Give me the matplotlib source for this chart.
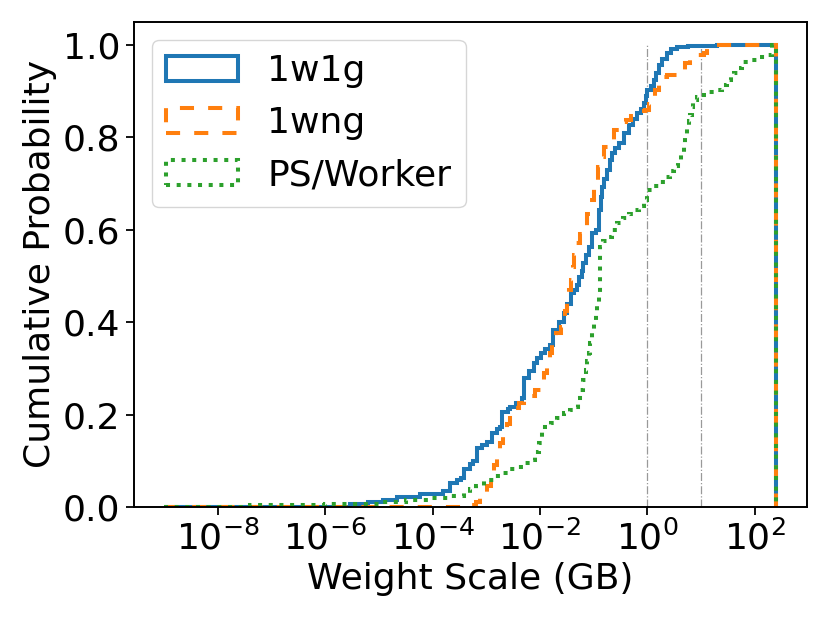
import numpy as np
import matplotlib
matplotlib.use("Agg")
import matplotlib.pyplot as plt
from matplotlib.patches import Patch
from matplotlib.ticker import FixedLocator, NullLocator, LogFormatterMathtext

# Step edges as log10(GB); CDF value holds from edge i to edge i+1.
MAX_LOG_GB = 2.40  # largest model weight (~251 GB)

blue_lx = [-9.0, -5.53, -5.2, -4.92, -4.66, -4.23, -3.80, -3.67, -3.55, -3.48, -3.42,
           -3.30, -3.24, -3.18, -3.08, -2.98, -2.90, -2.80, -2.74, -2.71, -2.60,
           -2.55, -2.45, -2.33, -2.30, -2.20, -2.12, -2.05, -1.99, -1.90, -1.81,
           -1.76, -1.65, -1.56, -1.50, -1.43, -1.37, -1.31, -1.28, -1.22, -1.19,
           -1.14, -1.09, -1.03, -0.96, -0.90, -0.87, -0.84, -0.80, -0.75, -0.70,
           -0.65, -0.60, -0.52, -0.44, -0.35, -0.27, -0.19, -0.12, -0.07, -0.02,
           0.0, 0.06, 0.12, 0.17, 0.21, 0.28, 0.37, 0.45, 0.55, 0.75, 0.99, 1.30]
blue_cdf = [0.0, 0.006, 0.010, 0.015, 0.022, 0.028, 0.035, 0.052, 0.058, 0.063, 0.082,
            0.092, 0.100, 0.128, 0.135, 0.141, 0.160, 0.168, 0.173, 0.206, 0.212,
            0.217, 0.226, 0.235, 0.279, 0.295, 0.311, 0.322, 0.333, 0.342, 0.351,
            0.383, 0.400, 0.419, 0.440, 0.463, 0.470, 0.480, 0.498, 0.510, 0.527,
            0.545, 0.563, 0.592, 0.600, 0.643, 0.670, 0.693, 0.710, 0.729, 0.751,
            0.765, 0.776, 0.787, 0.809, 0.827, 0.840, 0.852, 0.862, 0.874, 0.890,
            0.903, 0.912, 0.924, 0.940, 0.957, 0.970, 0.982, 0.990, 0.995, 0.997,
            0.998, 1.0]

orange_lx = [-9.0, -3.35, -3.20, -3.12, -3.05, -2.98, -2.92, -2.86, -2.80, -2.74,
             -2.68, -2.61, -2.55, -2.48, -2.40, -2.30, -2.22, -2.10, -1.99, -1.93,
             -1.87, -1.82, -1.77, -1.70, -1.60, -1.56, -1.53, -1.50, -1.46, -1.43,
             -1.39, -1.36, -1.32, -1.25, -1.19, -1.13, -1.06, -1.00, -0.97, -0.92,
             -0.875, -0.80, -0.72, -0.62, -0.53, -0.40, -0.30, -0.19, -0.04, 0.03,
             0.09, 0.15, 0.21, 0.37, 0.55, 0.65, 0.70, 0.80, 0.89, 1.05, 1.11]
orange_cdf = [0.0, 0.004, 0.010, 0.020, 0.030, 0.045, 0.066, 0.090, 0.116, 0.138,
              0.159, 0.180, 0.203, 0.215, 0.224, 0.232, 0.239, 0.252, 0.268, 0.290,
              0.311, 0.333, 0.354, 0.376, 0.390, 0.397, 0.425, 0.448, 0.470, 0.491,
              0.520, 0.545, 0.571, 0.590, 0.607, 0.635, 0.665, 0.690, 0.708, 0.735,
              0.758, 0.778, 0.794, 0.815, 0.834, 0.838, 0.845, 0.856, 0.859, 0.872,
              0.888, 0.903, 0.931, 0.935, 0.940, 0.946, 0.960, 0.970, 0.978, 0.982,
              1.0]

green_lx = [-9.0, -7.4, -6.0, -4.97, -4.5, -4.04, -3.70, -3.42, -3.30, -3.20, -3.05,
            -2.85, -2.68, -2.55, -2.43, -2.30, -2.18, -2.10, -2.02, -1.96, -1.80,
            -1.68, -1.56, -1.45, -1.37, -1.30, -1.25, -1.20, -1.15, -1.12, -1.09,
            -1.06, -1.03, -1.00, -0.96, -0.93, -0.90, -0.89, -0.88, -0.875, -0.82,
            -0.75, -0.65, -0.56, -0.45, -0.35, -0.25, -0.15, -0.07, 0.0, 0.12,
            0.24, 0.33, 0.43, 0.50, 0.58, 0.63, 0.68, 0.71, 0.74, 0.77, 0.80,
            0.83, 0.86, 0.92, 0.99, 1.11, 1.30, 1.40, 1.48, 1.55, 1.61, 1.68,
            1.76, 1.92, 2.10, 2.25, 2.32]
green_cdf = [0.0, 0.004, 0.006, 0.011, 0.015, 0.019, 0.024, 0.030, 0.038, 0.045, 0.058,
             0.066, 0.073, 0.082, 0.087, 0.095, 0.102, 0.118, 0.138, 0.174, 0.181,
             0.192, 0.203, 0.210, 0.217, 0.235, 0.253, 0.275, 0.297, 0.315, 0.333,
             0.355, 0.376, 0.398, 0.419, 0.440, 0.463, 0.490, 0.520, 0.563, 0.575,
             0.585, 0.600, 0.614, 0.625, 0.635, 0.643, 0.652, 0.665, 0.686, 0.695,
             0.704, 0.715, 0.726, 0.737, 0.747, 0.765, 0.784, 0.803, 0.823, 0.835,
             0.848, 0.865, 0.881, 0.887, 0.892, 0.899, 0.903, 0.913, 0.924, 0.931,
             0.939, 0.950, 0.964, 0.968, 0.973, 0.978, 1.0]

LW = 2.9
series = [
    ("1w1g", blue_lx, blue_cdf, "#1f77b4", "-"),
    ("1wng", orange_lx, orange_cdf, "#ff7f0e", (0, (3.5, 3.5))),
    ("PS/Worker", green_lx, green_cdf, "#2ca02c", ":"),
]

ref_lines_gb = [1, 10]

plt.rcParams['font.family'] = ['DejaVu Sans']
plt.rcParams['font.size'] = 26

fig = plt.figure(figsize=(8.3, 6.22), dpi=100)
ax = fig.add_axes([0.161, 0.185, 0.811, 0.780])

handles = []
for label, lx, cdf, color, ls in series:
    edges = 10.0 ** np.array(lx + [MAX_LOG_GB])
    ax.stairs(cdf, edges, baseline=0, color=color, linestyle=ls,
              linewidth=LW, label=label)
    handles.append(Patch(facecolor='none', edgecolor=color, linestyle=ls,
                         linewidth=LW, label=label))

ax.set_xscale('log')
ax.set_xlim(10 ** (-9.0 - 0.57), 10 ** (MAX_LOG_GB + 0.57))
ax.set_ylim(0, 1.05)

ax.vlines(ref_lines_gb, 0, 1, colors='#999999', linestyles='-.', linewidth=0.9, zorder=0)

ax.xaxis.set_major_locator(FixedLocator([1e-8, 1e-6, 1e-4, 1e-2, 1e0, 1e2]))
ax.xaxis.set_major_formatter(LogFormatterMathtext())
ax.xaxis.set_minor_locator(NullLocator())
ax.set_yticks([0.0, 0.2, 0.4, 0.6, 0.8, 1.0])

ax.tick_params(axis='both', labelsize=26, length=6, width=1.3)
for s in ax.spines.values():
    s.set_linewidth(1.4)

ax.set_xlabel("Weight Scale (GB)", fontsize=26)
ax.set_ylabel("Cumulative Probability", fontsize=26)

ax.legend(handles=handles, loc='upper left', fontsize=26, handlelength=2.0,
          borderaxespad=0.5)

fig.savefig("out.png", dpi=100)
